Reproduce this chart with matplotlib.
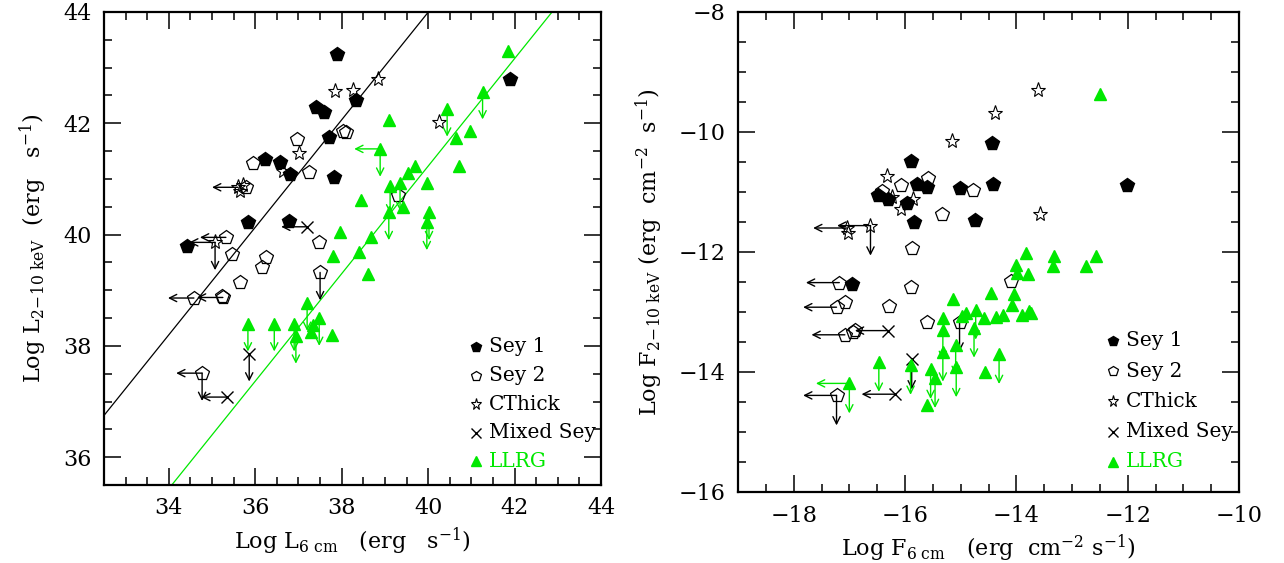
import matplotlib
matplotlib.use("Agg")
import matplotlib.pyplot as plt
from matplotlib.ticker import MultipleLocator, AutoMinorLocator

# ==========================================
# DATOS - panel izquierdo (luminosidades)
# ==========================================
sey1_L6 = [37.9, 37.4, 37.6, 38.33, 41.9, 37.71, 36.23, 36.57, 36.8, 37.82, 35.83, 36.79, 34.42]
sey1_LX = [43.25, 42.29, 42.21, 42.42, 42.79, 41.75, 41.35, 41.3, 41.08, 41.03, 40.22, 40.24, 39.8]
sey1_xul = [0] * 13
sey1_yul = [0] * 13

sey2_L6 = [38.03, 38.1, 36.97, 35.95, 37.25, 35.78, 37.48, 35.32, 35.46, 36.25, 36.16,
           35.65, 34.58, 35.25, 35.22, 37.5, 34.77, 39.3]
sey2_LX = [41.87, 41.85, 41.71, 41.28, 41.12, 40.85, 39.87, 39.95, 39.66, 39.59, 39.42,
           39.15, 38.86, 38.87, 38.9, 39.32, 37.51, 40.71]
sey2_xul = [0, 0, 0, 0, 0, 0, 0, 1, 0, 0, 0, 0, 1, 1, 0, 0, 1, 0]
sey2_yul = [0, 0, 0, 0, 0, 0, 0, 0, 0, 0, 0, 0, 0, 0, 0, 1, 1, 0]

ct_L6 = [37.85, 38.26, 38.84, 40.24, 37.01, 36.64, 35.6, 35.65, 35.72, 35.07]
ct_LX = [42.58, 42.6, 42.8, 42.02, 41.46, 41.15, 40.85, 40.78, 40.9, 39.86]
ct_xul = [0, 0, 0, 0, 0, 0, 1, 0, 0, 1]
ct_yul = [0, 0, 0, 0, 0, 0, 0, 0, 0, 1]

mix_L6 = [37.2, 35.86, 35.35]
mix_LX = [40.14, 37.86, 37.08]
mix_xul = [1, 0, 1]
mix_yul = [0, 1, 0]

llrg_L6 = [41.85, 41.26, 40.44, 39.09, 40.97, 40.64, 38.89, 40.72, 39.69, 39.53, 39.97,
           39.12, 39.35, 39.43, 38.44, 39.09, 40.02, 39.97, 37.95, 38.68, 38.4, 37.8,
           38.6, 37.77, 37.2, 35.83, 36.44, 36.9, 36.94, 37.34, 37.3, 37.48]
llrg_LX = [43.3, 42.57, 42.26, 42.06, 41.86, 41.73, 41.54, 41.23, 41.23, 41.11, 40.93,
           40.88, 40.93, 40.5, 40.62, 40.4, 40.4, 40.22, 40.05, 39.96, 39.68, 39.62,
           39.29, 38.2, 38.77, 38.4, 38.4, 38.4, 38.18, 38.38, 38.25, 38.5]
llrg_xul = [0, 0, 0, 0, 0, 0, 1, 0, 0, 0, 0, 0, 0, 0, 0, 0, 0, 0, 0, 0, 0, 0,
            0, 0, 0, 0, 0, 0, 0, 0, 0, 0]
llrg_yul = [0, 1, 1, 0, 0, 0, 1, 0, 0, 0, 0, 1, 1, 0, 0, 1, 1, 1, 0, 0, 0, 0,
            0, 0, 1, 1, 1, 1, 1, 0, 0, 1]

# rectas de correlacion (misma pendiente)
line_slope = 0.966
black_intercept = 5.355
green_intercept = 2.59

# ==========================================
# DATOS - panel derecho (flujos)
# ==========================================
sey1_F6 = [-14.43, -15.89, -15.79, -15.61, -15.02, -14.42, -16.48, -16.3, -15.97, -15.83,
           -14.74, -12.02, -16.96]
sey1_FX = [-10.19, -10.48, -10.86, -10.91, -10.93, -10.87, -11.05, -11.12, -11.18, -11.5,
           -11.46, -10.89, -12.53]
sey1_fxul = [0] * 13
sey1_fyul = [0] * 13

sey2_F6 = [-16.07, -15.59, -14.78, -16.42, -15.33, -15.88, -17.18, -15.9, -17.08, -17.23,
           -16.29, -15.61, -15.02, -17.08, -16.93, -16.9, -17.23, -14.09]
sey2_FX = [-10.88, -10.77, -10.97, -10.99, -11.37, -11.94, -12.51, -12.59, -12.84, -12.92,
           -12.9, -13.17, -13.16, -13.38, -13.33, -13.3, -14.39, -12.48]
sey2_fxul = [0, 0, 0, 0, 0, 0, 1, 0, 0, 1, 0, 0, 0, 1, 0, 0, 1, 0]
sey2_fyul = [0, 0, 0, 0, 0, 0, 0, 0, 0, 0, 0, 0, 1, 0, 0, 0, 1, 0]

ct_F6 = [-13.61, -14.39, -15.16, -16.32, -16.24, -15.85, -16.07, -17.05, -17.02, -16.62, -13.58]
ct_FX = [-9.3, -9.68, -10.15, -10.74, -11.08, -11.12, -11.28, -11.6, -11.69, -11.56, -11.37]
ct_fxul = [0, 0, 0, 0, 0, 0, 0, 1, 0, 1, 0]
ct_fyul = [0, 0, 0, 0, 0, 0, 0, 0, 0, 1, 0]

mix_F6 = [-16.3, -15.88, -16.18]
mix_FX = [-13.31, -13.79, -14.37]
mix_fxul = [1, 0, 1]
mix_fyul = [0, 1, 0]

llrg_F6 = [-12.49, -13.83, -13.33, -12.56, -14.01, -13.35, -12.74, -13.98, -13.79, -14.45,
           -14.04, -14.08, -13.9, -13.77, -13.73, -14.37, -14.24, -14.58, -14.31, -14.57,
           -15.13, -15.32, -15.32, -15.32, -15.54, -15.46, -15.6, -15.09, -15.08, -14.98,
           -14.9, -14.73, -14.76, -17.0, -16.47, -15.9]
llrg_FX = [-9.36, -12.01, -12.07, -12.07, -12.21, -12.24, -12.23, -12.35, -12.36, -12.68,
           -12.7, -12.88, -13.05, -12.98, -13.01, -13.08, -13.05, -13.1, -13.7, -14.0,
           -12.79, -13.1, -13.3, -13.66, -13.95, -14.1, -14.55, -13.55, -13.92, -13.07,
           -13.02, -12.96, -13.26, -14.19, -13.83, -13.88]
llrg_fxul = [0] * 33 + [1, 0, 0]
llrg_fyul = [0, 0, 0, 0, 0, 0, 0, 0, 0, 0,
             0, 0, 0, 0, 0, 0, 0, 0, 1, 0,
             0, 0, 1, 1, 1, 1, 0, 1, 1, 0,
             0, 1, 1, 1, 1, 1]

GREEN = '#00e800'
labels = ['Sey 1', 'Sey 2', 'CThick', 'Mixed Sey', 'LLRG']

plt.rcParams['font.family'] = 'DejaVu Serif'
plt.rcParams['mathtext.fontset'] = 'dejavuserif'

estilos = [
    dict(marker='p', ms=10.5, mfc='black', mec='black', color='black'),
    dict(marker='p', ms=10.5, mfc='none', mec='black', mew=0.9, color='black'),
    dict(marker='*', ms=11, mfc='none', mec='black', mew=0.8, color='black'),
    dict(marker='x', ms=9, mec='black', mew=1, color='black'),
    dict(marker='^', ms=9, mfc=GREEN, mec=GREEN, color=GREEN),
]


def dibujar_serie(ax, xs, ys, xul, yul, estilo, dx, dy):
    col = estilo['color']
    for x, y, fx, fy in zip(xs, ys, xul, yul):
        if fx:
            ax.annotate('', xy=(x - dx, y), xytext=(x, y),
                        arrowprops=dict(arrowstyle='->', color=col, lw=1,
                                        shrinkA=0, shrinkB=0, mutation_scale=13))
        if fy:
            ax.annotate('', xy=(x, y - dy), xytext=(x, y),
                        arrowprops=dict(arrowstyle='->', color=col, lw=1,
                                        shrinkA=0, shrinkB=0, mutation_scale=13))
    kw = {k: v for k, v in estilo.items() if k != 'color'}
    ax.plot(xs, ys, ls='none', zorder=3, **kw)


def leyenda(ax, x0, y_top, paso):
    for i, (lab, est) in enumerate(zip(labels, estilos)):
        y = y_top - i * paso
        kw = {k: v for k, v in est.items() if k not in ('color', 'ms')}
        ax.plot([x0], [y], transform=ax.transAxes, ls='none', ms=est['ms'] * 0.75,
                clip_on=False, **kw)
        ax.text(x0 + 0.027, y, lab, transform=ax.transAxes, va='center', ha='left',
                fontsize=14.5, color=est['color'])


def formato_ejes(ax):
    ax.xaxis.set_major_locator(MultipleLocator(2))
    ax.yaxis.set_major_locator(MultipleLocator(2))
    ax.xaxis.set_minor_locator(AutoMinorLocator(4))
    ax.yaxis.set_minor_locator(AutoMinorLocator(4))
    ax.tick_params(which='both', direction='in', top=True, right=True, width=1.1)
    ax.tick_params(which='major', length=12, labelsize=16, pad=9)
    ax.tick_params(which='minor', length=6)
    for s in ax.spines.values():
        s.set_linewidth(1.6)


fig = plt.figure(figsize=(12.84, 5.63), dpi=100)
ax1 = fig.add_axes([104 / 1284, 78 / 563, 497 / 1284, 473 / 563])
ax2 = fig.add_axes([738 / 1284, 71 / 563, 501 / 1284, 480 / 563])

# ---- panel izquierdo
xl = [32.5, 44]
ax1.plot(xl, [line_slope * v + black_intercept for v in xl], color='black', lw=0.9, zorder=1)
ax1.plot(xl, [line_slope * v + green_intercept for v in xl], color=GREEN, lw=0.9, zorder=1)
series1 = [
    (sey1_L6, sey1_LX, sey1_xul, sey1_yul),
    (sey2_L6, sey2_LX, sey2_xul, sey2_yul),
    (ct_L6, ct_LX, ct_xul, ct_yul),
    (mix_L6, mix_LX, mix_xul, mix_yul),
    (llrg_L6, llrg_LX, llrg_xul, llrg_yul),
]
for (xs, ys, fx, fy), est in zip(series1, estilos):
    dibujar_serie(ax1, xs, ys, fx, fy, est, 0.6, 0.5)
ax1.set_xlim(32.5, 44)
ax1.set_ylim(35.5, 44)
formato_ejes(ax1)
ax1.set_xlabel(r'Log L$_{\mathrm{6\ cm}}$   (erg   s$^{-1}$)', fontsize=16, labelpad=4)
ax1.set_ylabel(r'Log L$_{\mathrm{2\!-\!10\ keV}}$  (erg   s$^{-1}$)', fontsize=16, labelpad=10)
leyenda(ax1, 0.748, 0.292, 0.0605)

# ---- panel derecho
series2 = [
    (sey1_F6, sey1_FX, sey1_fxul, sey1_fyul),
    (sey2_F6, sey2_FX, sey2_fxul, sey2_fyul),
    (ct_F6, ct_FX, ct_fxul, ct_fyul),
    (mix_F6, mix_FX, mix_fxul, mix_fyul),
    (llrg_F6, llrg_FX, llrg_fxul, llrg_fyul),
]
for (xs, ys, fx, fy), est in zip(series2, estilos):
    dibujar_serie(ax2, xs, ys, fx, fy, est, 0.6, 0.5)
ax2.set_xlim(-19, -10)
ax2.set_ylim(-16, -8)
formato_ejes(ax2)
ax2.set_xlabel(r'Log F$_{\mathrm{6\ cm}}$   (erg  cm$^{-2}$ s$^{-1}$)', fontsize=16, labelpad=4)
ax2.set_ylabel(r'Log F$_{\mathrm{2\!-\!10\ keV}}$ (erg  cm$^{-2}$  s$^{-1}$)', fontsize=16, labelpad=10)
leyenda(ax2, 0.748, 0.315, 0.063)

fig.savefig('out.png', dpi=100)
